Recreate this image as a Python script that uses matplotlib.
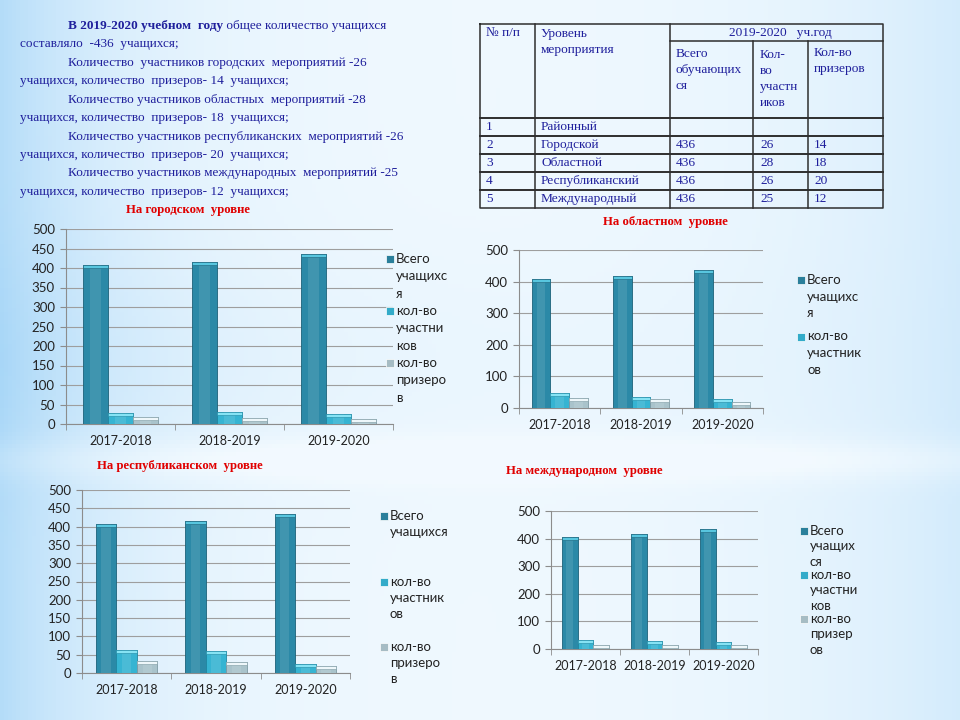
import matplotlib
matplotlib.use("Agg")
import matplotlib.pyplot as plt
import numpy as np
from matplotlib.patches import Rectangle

# ---- data ----
years = ["2017-2018", "2018-2019", "2019-2020"]

city_total = [408, 415, 436]
city_part = [28, 32, 26]
city_prize = [18, 16, 14]

region_total = [408, 417, 437]
region_part = [47, 35, 28]
region_prize = [32, 28, 18]

rep_total = [406, 415, 434]
rep_part = [62, 59, 25]
rep_prize = [34, 30, 20]

intl_total = [407, 417, 435]
intl_part = [33, 29, 24]
intl_prize = [15, 14, 15]

table_num = ["1", "2", "3", "4", "5"]
table_levels = ["Районный", "Городской", "Областной", "Республиканский", "Международный"]
table_total = ["", "436", "436", "436", "436"]
table_part = ["", "26", "28", "26", "25"]
table_prize = ["", "14", "18", "20", "12"]

W, H = 960, 720
NAVY = "#1f1f9c"
RED = "#e00000"
SERIF = "Liberation Serif"
SANS = "Lato"

body_colors = ["#2b89a7", "#36b4d2", "#a9c3cb"]
edge_colors = ["#1c6179", "#1f88a3", "#7d9aa3"]
cap_colors = ["#58c6df", "#86e3f4", "#eef7fa"]
legend_colors = ["#2a7f9b", "#33abc9", "#a6bcc4"]


def fx(x):
    return x / W


def fy(y):
    return 1 - y / H


fig = plt.figure(figsize=(9.6, 7.2), dpi=100)

# background gradient
bg = fig.add_axes([0, 0, 1, 1], zorder=-10)
xs = np.linspace(0, 1, 240)
ys = np.linspace(0, 1, 180)
gx, gy = np.meshgrid(xs, ys)
shade = 0.60 * np.exp(-gx / 0.13) + 0.30 * np.exp(-(1 - gx) / 0.18)
shade += 0.12 * np.exp(-((gy - 0.50) / 0.15) ** 2) * np.exp(-gx / 0.5)
shade -= 0.14 * np.exp(-((gy - 0.64) / 0.03) ** 2)
shade = np.clip(shade, 0, 1)
white = np.array([0.95, 0.98, 1.0])
blue = np.array([0.55, 0.79, 0.96])
img = white[None, None, :] * (1 - shade[..., None]) + blue[None, None, :] * shade[..., None]
bg.imshow(img, extent=[0, 1, 0, 1], aspect="auto", origin="upper")
bg.set_axis_off()

# ---- text block ----
TFS = 9.5
renderer = fig.canvas.get_renderer()
t = fig.text(fx(68), fy(26), "В 2019-2020 учебном  году", fontsize=TFS, fontweight="bold",
             family=SERIF, color=NAVY, va="center")
bb = t.get_window_extent(renderer)
fig.text(bb.x1 / W, fy(26), " общее количество учащихся", fontsize=TFS,
         family=SERIF, color=NAVY, va="center")
lines = [
    (20, 44, "составляло  -436  учащихся;"),
    (68, 63, "Количество  участников городских  мероприятий -26"),
    (20, 81, "учащихся, количество  призеров- 14  учащихся;"),
    (68, 100, "Количество участников областных  мероприятий -28"),
    (20, 118, "учащихся, количество  призеров- 18  учащихся;"),
    (68, 137, "Количество участников республиканских  мероприятий -26"),
    (20, 155, "учащихся, количество  призеров- 20  учащихся;"),
    (68, 173, "Количество участников международных  мероприятий -25"),
    (20, 192, "учащихся, количество  призеров- 12  учащихся;"),
]
for x, y, s in lines:
    fig.text(fx(x), fy(y), s, fontsize=TFS, family=SERIF, color=NAVY, va="center")

# ---- table ----
tab = fig.add_axes([0, 0, 1, 1], zorder=2)
tab.set_xlim(0, W)
tab.set_ylim(H, 0)
tab.set_axis_off()
tl, tr, tt, tb = 480, 883, 24, 208
row_y = [118, 136, 154, 172, 190, 208]
lc = "#2e2e2e"
tab.plot([tl, tr, tr, tl, tl], [tt, tt, tb, tb, tt], color=lc, lw=1.1)
tab.plot([535, 535], [tt, tb], color=lc, lw=1.1)
tab.plot([670, 670], [tt, tb], color=lc, lw=1.1)
tab.plot([753, 753], [41, tb], color=lc, lw=1.1)
tab.plot([808, 808], [41, tb], color=lc, lw=1.1)
tab.plot([670, tr], [41, 41], color=lc, lw=1.1)
for y in row_y[:-1]:
    tab.plot([tl, tr], [y, y], color=lc, lw=1.4)

tfs = 9.6
hdr = dict(fontsize=tfs, family=SERIF, color=NAVY, va="center", linespacing=1.42)
tab.text(486, 33, "№ п/п", **hdr)
tab.text(541, 42, "Уровень\nмероприятия", **hdr)
tab.text(780, 33, "2019-2020   уч.год", fontsize=tfs, family=SERIF, color=NAVY,
         va="center", ha="center")
tab.text(676, 70, "Всего\nобучающих\nся", **hdr)
tab.text(760, 79, "Кол-\nво\nучастн\nиков", **hdr)
tab.text(814, 61, "Кол-во\nпризеров", **hdr)
for i in range(len(table_levels)):
    yc = (row_y[i] + row_y[i + 1]) / 2
    tab.text(486, yc, table_num[i], **hdr)
    tab.text(541, yc, table_levels[i], **hdr)
    tab.text(676, yc, table_total[i], **hdr)
    tab.text(760, yc, table_part[i], **hdr)
    tab.text(814, yc, table_prize[i], **hdr)


# ---- charts ----
def draw_chart(box, totals, parts, prizes, ystep, title, title_xy, labels, leg_x, leg_y, line_h, entry_h):
    left, top, right, bottom = box
    ax = fig.add_axes([fx(left), fy(bottom), fx(right - left), (bottom - top) / H], zorder=3)
    ax.patch.set_alpha(0)
    x = np.arange(len(years))
    w = 0.23
    cap = 500 * 3.0 / (bottom - top)
    for k, (off, vals) in enumerate(zip([-w, 0, w], [totals, parts, prizes])):
        vals = np.array(vals, dtype=float)
        ax.bar(x + off, vals, w, color=body_colors[k], edgecolor=edge_colors[k], lw=0.6, zorder=3)
        ax.bar(x + off, vals, w * 0.45, color="white", alpha=0.10, lw=0, zorder=4)
        ax.bar(x + off, np.full(3, cap), w, bottom=vals - cap, color=cap_colors[k],
               edgecolor=edge_colors[k], lw=0.4, zorder=5)
    ax.set_ylim(0, 500)
    ax.set_xlim(-0.5, 2.5)
    ax.set_yticks(np.arange(0, 501, ystep))
    ax.set_xticks(x)
    ax.set_xticklabels(years)
    ax.set_xticks([-0.5, 0.5, 1.5, 2.5], minor=True)
    ax.tick_params(axis="x", which="major", length=0, pad=8, labelsize=9, labelcolor="#222222")
    ax.tick_params(axis="x", which="minor", length=4, color="#8c8c8c")
    ax.tick_params(axis="y", length=4, color="#8c8c8c", pad=4, labelsize=9.5, labelcolor="#222222")
    for lab in ax.get_xticklabels() + ax.get_yticklabels():
        lab.set_family(SANS)
    ax.grid(axis="y", color="#9e9e9e", lw=0.8, zorder=0)
    ax.set_axisbelow(True)
    for s in ["top", "right"]:
        ax.spines[s].set_visible(False)
    for s in ["left", "bottom"]:
        ax.spines[s].set_color("#8c8c8c")
        ax.spines[s].set_linewidth(0.8)
    fig.text(fx(title_xy[0]), fy(title_xy[1]), title, fontsize=9.2, fontweight="bold",
             family=SERIF, color=RED, ha="center", va="center")
    # legend drawn by hand: square beside the first line of each wrapped label
    y = leg_y
    for k, lab in enumerate(labels):
        fig.patches.append(Rectangle((fx(leg_x), fy(y + 4)), 8 / W, 8 / H, transform=fig.transFigure,
                                     facecolor=legend_colors[k], edgecolor="white", lw=0.5, zorder=5))
        for j, part in enumerate(lab.split("\n")):
            fig.text(fx(leg_x + 10), fy(y + j * line_h), part, fontsize=9.5, family=SANS,
                     color="#222222", va="center")
        y += entry_h
    return ax


draw_chart((66, 229, 393, 424), city_total, city_part, city_prize, 50,
           "На городском  уровне", (188, 210),
           ["Всего\nучащихс\nя", "кол-во\nучастни\nков", "кол-во\nпризеро\nв"], 386, 259, 17.3, 52)
draw_chart((519, 250, 763, 408), region_total, region_part, region_prize, 100,
           "На областном  уровне", (665, 222),
           ["Всего\nучащихс\nя", "кол-во\nучастник\nов"], 797, 280, 16.7, 56.5)
draw_chart((82, 490, 350, 673), rep_total, rep_part, rep_prize, 50,
           "На республиканском  уровне", (180, 466),
           ["Всего\nучащихся", "кол-во\nучастник\nов", "кол-во\nпризеро\nв"], 380, 516, 16, 65.5)
draw_chart((551, 511, 758, 649), intl_total, intl_part, intl_prize, 100,
           "На международном  уровне", (584, 471),
           ["Всего\nучащих\nся", "кол-во\nучастни\nков", "кол-во\nпризер\nов"], 800, 531, 15.5, 44)

fig.savefig("out.png", dpi=100)
